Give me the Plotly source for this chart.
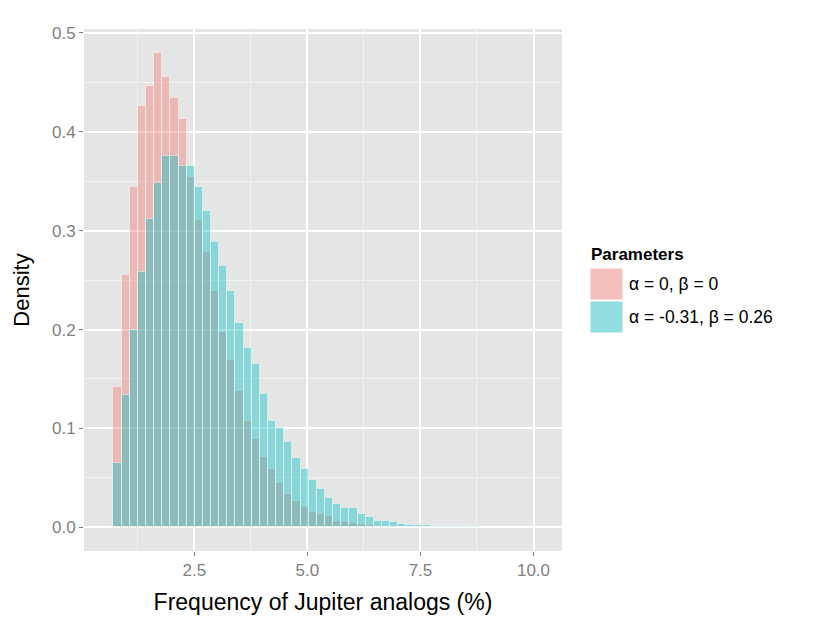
import plotly.graph_objects as go

# bin centres of the histogram (bin width 0.18)
bin_centers = [0.80, 0.98, 1.16, 1.34, 1.52, 1.70, 1.88, 2.06, 2.24, 2.42,
               2.60, 2.78, 2.96, 3.14, 3.32, 3.50, 3.68, 3.86, 4.04, 4.22,
               4.40, 4.58, 4.76, 4.94, 5.12, 5.30, 5.48, 5.66, 5.84, 6.02,
               6.20, 6.38, 6.56, 6.74, 6.92, 7.10, 7.28, 7.46, 7.64, 7.82,
               8.00, 8.18, 8.36, 8.54, 8.72, 8.90, 9.08, 9.26, 9.44]
bin_width = 0.18

# density, alpha = 0, beta = 0
density_a = [0.142, 0.255, 0.344, 0.426, 0.446, 0.480, 0.455, 0.434, 0.413, 0.354,
             0.311, 0.278, 0.239, 0.198, 0.169, 0.138, 0.107, 0.089, 0.071, 0.059,
             0.045, 0.034, 0.027, 0.021, 0.015, 0.013, 0.011, 0.0066, 0.0056, 0.004,
             0.0034, 0.002, 0.0015, 0.0012, 0.001, 0.0007, 0.0005, 0.0004, 0.0003, 0.0002]

# density, alpha = -0.31, beta = 0.26
density_b = [0.065, 0.134, 0.200, 0.258, 0.312, 0.348, 0.376, 0.376, 0.365, 0.365,
             0.344, 0.320, 0.289, 0.264, 0.239, 0.207, 0.181, 0.165, 0.135, 0.108,
             0.100, 0.086, 0.070, 0.059, 0.048, 0.039, 0.030, 0.024, 0.019, 0.019,
             0.013, 0.010, 0.0066, 0.0066, 0.005, 0.0035, 0.0025, 0.0023, 0.002, 0.0015,
             0.0013, 0.0012, 0.001, 0.001, 0.0008, 0.0007, 0.0006, 0.0005, 0.0004]

labels = ["\u03b1 = 0, \u03b2 = 0", "\u03b1 = -0.31, \u03b2 = 0.26"]
fills = ["rgba(248,118,109,0.4)", "rgba(0,191,196,0.4)"]
key_fills = ["#F4C0BD", "#92DEE0"]

FONT = "Liberation Sans, Arial, Helvetica, sans-serif"
W, H = 830, 623
OFF = 8  # page body margin
# panel in window pixels: left 84, right 562, top 29, bottom 551
L, T = 84 - OFF, 29 - OFF
R, B = W - (562 - OFF), H - (551 - OFF)

fig = go.Figure()
for dens, name, col in zip([density_a, density_b], labels, fills):
    fig.add_trace(go.Bar(x=bin_centers[:len(dens)], y=dens, width=bin_width,
                         name=name, showlegend=False,
                         marker=dict(color=col,
                                     line=dict(color="rgba(255,255,255,0.45)", width=1))))


def px(x):
    return (x - OFF - L) / (W - L - R)


def py(y):
    return (H - B - (y - OFF)) / (H - T - B)


# hand-made legend (big ggplot-style keys)
shapes = []
annotations = [dict(text="<b>Parameters</b>", x=px(589), y=py(254), xref="paper", yref="paper",
                    xanchor="left", yanchor="middle", showarrow=False,
                    font=dict(family=FONT, size=17, color="black"))]
key_tops = [268, 301]
for top, lab, kc in zip(key_tops, labels, key_fills):
    shapes.append(dict(type="rect", xref="paper", yref="paper",
                       x0=px(590), x1=px(623), y0=py(top), y1=py(top + 32),
                       fillcolor=kc, line=dict(color="white", width=1)))
    annotations.append(dict(text=lab, x=px(627), y=py(top + 16), xref="paper", yref="paper",
                            xanchor="left", yanchor="middle", showarrow=False,
                            font=dict(family=FONT, size=17.5, color="black")))

fig.update_layout(
    width=W, height=H,
    margin=dict(l=L, r=R, t=T, b=B),
    barmode="overlay",
    bargap=0,
    paper_bgcolor="white",
    plot_bgcolor="#E5E5E5",
    font=dict(family=FONT),
    shapes=shapes,
    annotations=annotations,
    showlegend=False,
)
fig.update_xaxes(range=[0.06, 10.63], tickvals=[2.5, 5.0, 7.5, 10.0], tickformat=".1f",
                 ticks="outside", ticklen=4, tickwidth=1.2, tickcolor="#7F7F7F",
                 tickfont=dict(family=FONT, size=17, color="#7F7F7F"),
                 showgrid=True, gridcolor="white", gridwidth=1.8, zeroline=False,
                 minor=dict(tickvals=[1.25, 3.75, 6.25, 8.75], showgrid=True,
                            gridcolor="#F2F2F2", gridwidth=0.8, ticks=""),
                 title=dict(text="Frequency of Jupiter analogs (%)", standoff=14,
                            font=dict(family=FONT, size=23, color="black")))
fig.update_yaxes(range=[-0.024, 0.504], tickvals=[0, 0.1, 0.2, 0.3, 0.4, 0.5], tickformat=".1f",
                 ticks="outside", ticklen=4, tickwidth=1.2, tickcolor="#7F7F7F",
                 tickfont=dict(family=FONT, size=17, color="#7F7F7F"),
                 showgrid=True, gridcolor="white", gridwidth=1.8, zeroline=False,
                 minor=dict(tickvals=[0.05, 0.15, 0.25, 0.35, 0.45], showgrid=True,
                            gridcolor="#F2F2F2", gridwidth=0.8, ticks=""),
                 title=dict(text="Density", standoff=16,
                            font=dict(family=FONT, size=22, color="black")))

fig.write_html("out.html")
